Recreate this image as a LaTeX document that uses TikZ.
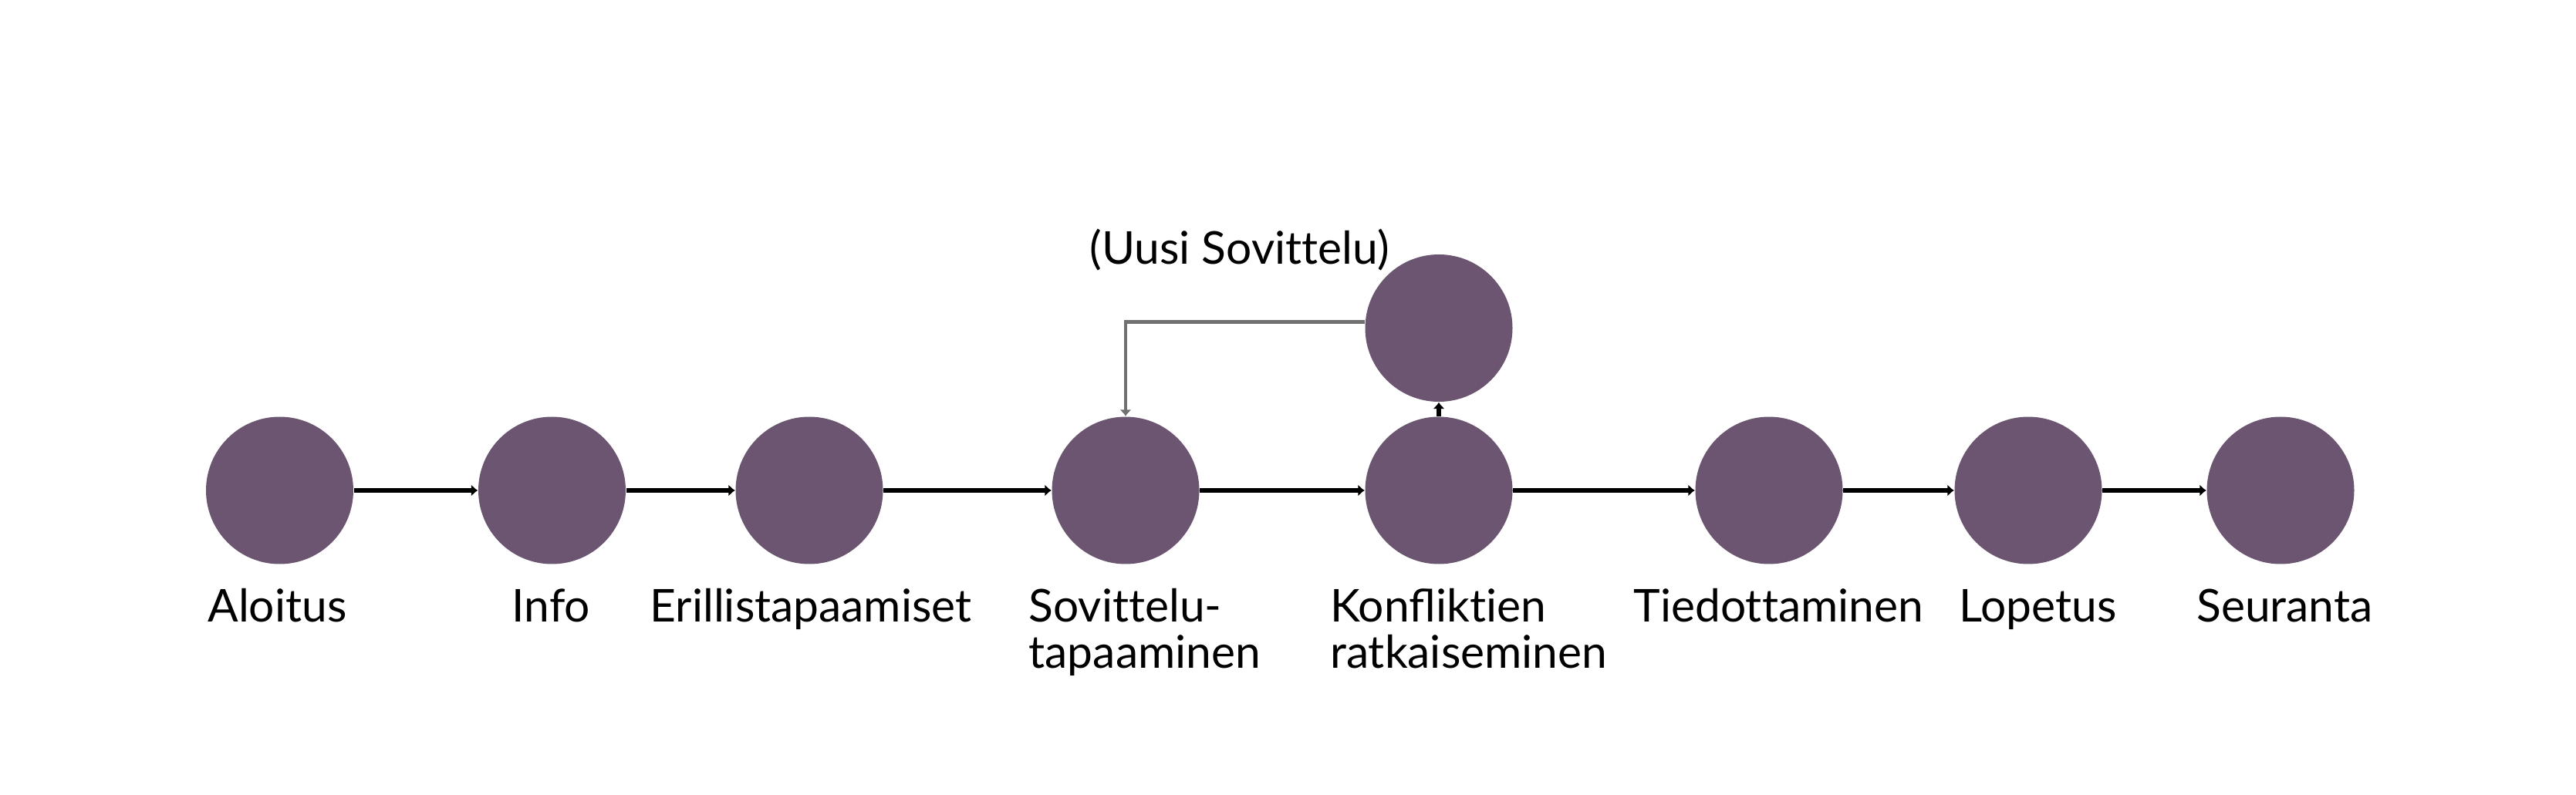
\documentclass[tikz,border=0pt]{standalone}
\usepackage{fontspec}
\setmainfont{Lato}
\usetikzlibrary{arrows.meta, positioning}
\definecolor{vaihe}{RGB}{107,85,112}
\definecolor{paluu}{RGB}{112,112,112}

\begin{document}
\begin{tikzpicture}[>={Latex[length=2.4pt,width=4.4pt]},
  pallo/.style={circle,fill=vaihe,minimum size=1.91cm,inner sep=0pt},
  nimi/.style={anchor=base west,inner sep=0pt,align=left,font=\fontsize{16.7}{17}\selectfont}]
\useasboundingbox (0,0) rectangle (33.39,10.30);
\node[pallo] at (3.625,3.94) (A) {};
\node[pallo] at (7.155,3.94) (B) {};
\node[pallo] at (10.49,3.94) (C) {};
\node[pallo] at (14.59,3.94) (D) {};
\node[pallo] at (18.65,3.94) (E) {};
\node[pallo] at (22.93,3.94) (F) {};
\node[pallo] at (26.29,3.94) (G) {};
\node[pallo] at (29.56,3.94) (H) {};
\node[pallo] at (18.65,6.045) (U) {};
\node[nimi] at (2.687,2.233) (LA) {Aloitus};
\node[nimi] at (6.63,2.233) (LB) {Info};
\node[nimi] at (8.42,2.233) (LC) {Erillistapaamiset};
% two-line labels sit on the baseline of the lower line
\node[nimi] at (13.33,1.633) (LD) {Sovit\kern0pt telu-\\tapaaminen};
\node[nimi] at (17.235,1.633) (LE) {Konflikt\kern0pt ien\\ratkaiseminen};
\node[nimi] at (21.17,2.233) (LF) {Tiedot\kern0pt taminen};
\node[nimi] at (25.386,2.233) (LG) {Lopetus};
\node[nimi] at (28.467,2.233) (LH) {Seuranta};
\node[nimi] at (14.12,6.87) (LU) {(Uusi Sovit\kern0pt telu)};
\draw[->,line width=1.7pt](A) to (B);
\draw[->,line width=1.7pt](B) to (C);
\draw[->,line width=1.7pt](C) to (D);
\draw[->,line width=1.7pt](D) to (E);
\draw[->,line width=1.7pt](E) to (F);
\draw[->,line width=1.7pt](F) to (G);
\draw[->,line width=1.7pt](G) to (H);
\draw[->,line width=1.7pt](E) to (U);
\draw[->,line width=1.3pt,paluu]([yshift=0.08cm]U.west) -| (D.north);
\end{tikzpicture}
\end{document}
